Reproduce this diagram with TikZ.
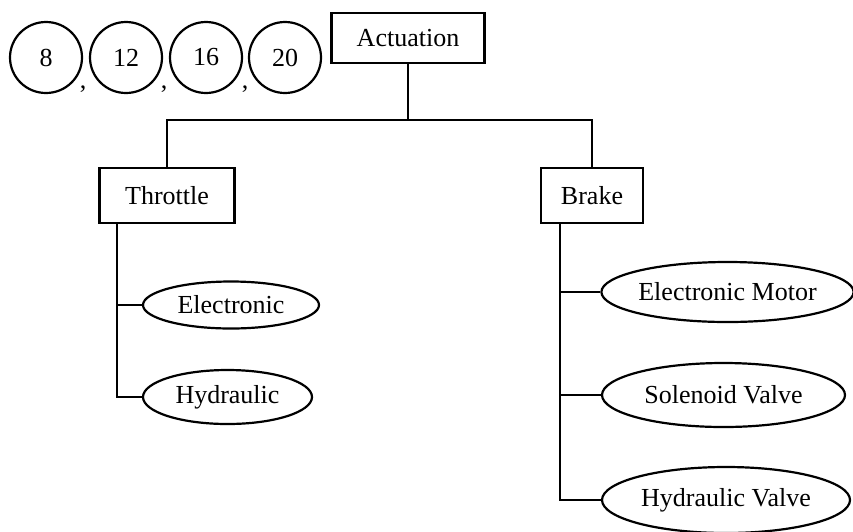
\documentclass[tikz,border=0pt]{standalone}
\usepackage{fontspec}
\setmainfont{Liberation Serif}
\usetikzlibrary{shapes.geometric}
\begin{document}
\begin{tikzpicture}[x=1pt,y=-1pt,
  every node/.style={font=\fontsize{26}{30}\selectfont, inner sep=0pt},
  ln/.style={line width=2.2pt},
  rbox/.style={draw, ln, rectangle},
  numc/.style={draw, ln, ellipse, minimum width=72pt, minimum height=71pt},
  opt/.style={draw, ln, ellipse},
  sep/.style={anchor=base}
]
\useasboundingbox (0,0) rectangle (853,531);

% option counts
\node[numc] (c8)  at (46,57.5)  {8};
\node[numc] (c12) at (126,57.5) {12};
\node[numc] (c16) at (206,57.5) {16};
\node[numc] (c20) at (285,57.5) {20};
\node[sep] (k1) at (83,88)  {,};
\node[sep] (k2) at (164,88) {,};
\node[sep] (k3) at (245,88) {,};

% hierarchy boxes
\node[rbox, minimum width=153pt, minimum height=50pt] (act) at (408,38) {Actuation};
\node[rbox, minimum width=135pt, minimum height=55pt] (thr) at (167,195.5) {Throttle};
\node[rbox, minimum width=102pt, minimum height=55pt] (brk) at (592,195.5) {Brake};

% throttle options
\node[opt, minimum width=176pt, minimum height=47pt] (te) at (231,305) {Electronic};
\node[opt, minimum width=169pt, minimum height=54pt] (th) at (227.5,397) {Hydraulic};

% brake options
\node[opt, minimum width=251pt, minimum height=60pt] (bm) at (727.5,292) {Electronic Motor};
\node[opt, minimum width=243pt, minimum height=64pt] (bs) at (723.5,395) {Solenoid Valve};
\node[opt, minimum width=248pt, minimum height=66pt] (bh) at (726,500) {Hydraulic Valve};

% tree connectors
\coordinate (bus) at (408,120);
\draw[ln] (act.south) -- (bus);
\draw[ln] (thr.north) |- (bus) -| (brk.north);

\coordinate (tt) at (117,223);
\draw[ln] (tt) |- (th.west);
\draw[ln] (te.west) -- (te.west -| tt);

\coordinate (bt) at (560,223);
\draw[ln] (bt) |- (bh.west);
\draw[ln] (bm.west) -- (bm.west -| bt);
\draw[ln] (bs.west) -- (bs.west -| bt);
\end{tikzpicture}
\end{document}
